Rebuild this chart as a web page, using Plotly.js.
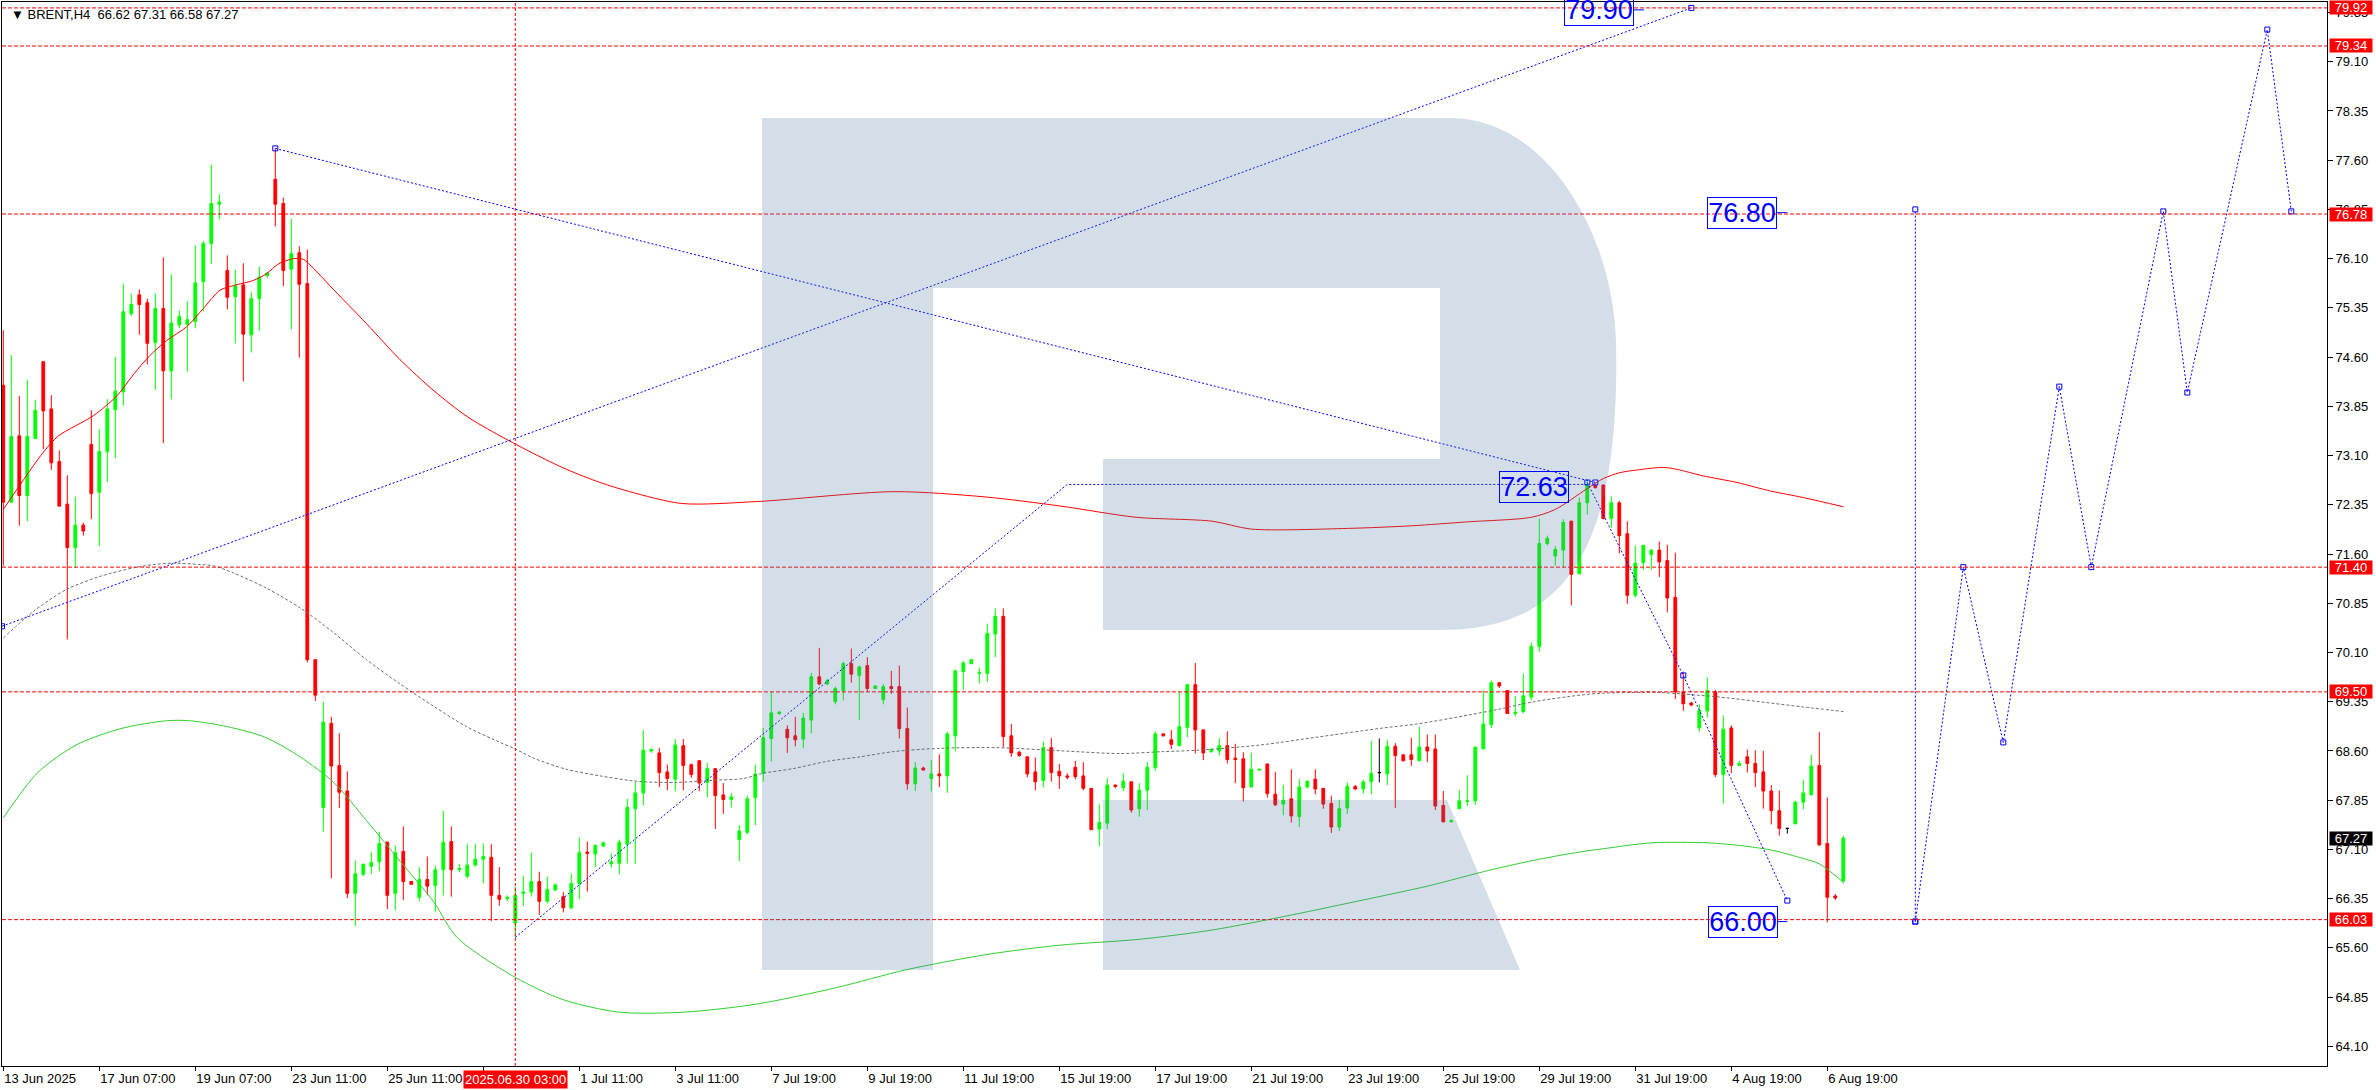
<!DOCTYPE html>
<html>
<head>
<meta charset="utf-8">
<script src="https://cdn.plot.ly/plotly-3.0.1.min.js"></script>
<style>
html,body{margin:0;padding:0;background:#ffffff;}
#chart{width:2376px;height:1090px;}
</style>
</head>
<body>
<div id="chart"></div>
<script>
// ---------------- DATA ----------------
const symbolName = 'BRENT,H4';
const candleOpen = [
74.17,72.39,73.40,72.49,73.36,74.53,73.81,73.01,72.36,71.70,
72.04,73.27,72.54,73.16,73.80,74.07,75.26,75.55,75.43,74.82,
75.34,74.39,75.09,75.10,75.14,75.75,76.33,76.93,75.92,75.52,
75.70,74.94,75.49,75.84,77.31,76.94,75.94,76.19,75.72,69.99,
67.74,69.02,68.38,67.99,66.43,66.72,66.84,66.91,67.21,66.43,
67.07,66.61,66.37,66.64,66.55,66.79,67.22,66.79,66.69,66.86,
66.95,66.98,66.40,66.35,65.98,66.43,66.45,66.61,66.31,66.48,
66.38,66.21,66.58,67.06,67.03,67.15,66.88,66.89,67.18,67.72,
67.96,68.60,68.57,68.28,68.17,68.68,68.39,68.45,68.12,68.33,
67.93,67.86,67.25,67.36,67.89,68.26,68.79,69.17,68.93,68.83,
68.78,69.07,69.73,69.62,69.35,69.52,69.93,69.75,69.90,69.55,
69.38,69.58,69.58,68.94,68.10,68.34,68.18,68.25,68.22,68.83,
69.81,69.93,69.78,69.78,70.38,70.65,68.83,68.58,68.51,68.28,
68.15,68.65,68.29,68.22,68.35,68.22,68.03,67.41,67.50,68.08,
68.04,68.13,67.72,68.00,68.35,68.86,68.77,68.68,68.96,69.61,
68.92,68.59,68.60,68.68,68.49,68.48,68.05,68.31,68.40,67.94,
67.79,67.87,67.60,68.05,68.17,68.03,67.80,67.44,67.73,68.06,
68.02,68.13,68.27,68.25,68.67,68.54,68.54,68.45,68.66,68.63,
67.77,67.52,67.72,67.83,67.84,68.63,69.00,69.64,69.52,69.17,
69.20,69.42,70.19,71.76,71.57,71.66,72.10,71.30,72.38,72.65,
72.65,72.14,72.38,71.91,70.97,71.47,71.59,71.66,71.50,70.94,
69.50,69.33,68.95,69.21,69.50,68.24,68.95,68.38,68.51,68.41,
68.28,67.99,67.69,67.42,67.49,67.82,67.93,68.38,67.19,66.39,
66.62];
const candleHigh = [
75.01,74.63,74.01,74.25,73.95,74.53,74.02,73.18,72.80,72.47,
72.08,73.79,73.50,73.96,74.60,75.72,75.57,75.63,75.49,75.57,
76.12,75.86,75.31,75.45,76.30,76.37,77.53,77.08,76.15,75.93,
76.03,75.59,75.98,75.90,77.78,77.03,76.71,76.29,76.24,70.00,
69.35,69.12,68.87,68.29,66.93,66.89,67.06,67.37,67.22,67.16,
67.45,66.62,66.83,66.99,66.85,67.69,67.45,66.88,67.18,67.18,
67.19,67.18,66.83,66.40,66.53,66.70,67.05,66.76,66.68,66.58,
66.45,66.73,67.28,67.22,67.18,67.22,67.04,67.25,67.87,68.13,
68.92,68.64,68.65,68.39,68.78,68.78,68.41,68.46,68.42,68.34,
68.11,67.96,67.47,67.92,68.39,68.95,69.50,69.21,68.99,69.12,
69.18,69.79,70.17,69.70,69.58,69.96,70.16,69.90,70.03,69.59,
69.62,69.82,69.90,69.26,68.43,68.36,68.46,68.55,68.89,69.84,
69.97,70.00,69.87,70.54,70.77,70.77,69.01,68.60,68.52,68.50,
68.74,68.80,68.40,68.26,68.45,68.43,68.03,67.79,68.19,68.09,
68.26,68.13,68.11,68.43,68.90,68.86,68.92,69.50,69.61,69.94,
68.93,68.64,68.80,68.90,68.71,68.58,68.57,68.33,68.41,68.28,
68.08,68.32,68.17,68.14,68.32,68.03,67.92,67.86,68.12,68.08,
68.16,68.75,68.79,68.77,68.72,68.54,68.80,68.97,68.85,68.85,
67.99,67.56,68.00,68.23,68.66,69.52,69.67,69.64,69.52,69.44,
69.78,70.25,72.14,71.88,71.72,72.13,72.11,72.46,72.71,72.66,
72.66,72.48,72.41,72.10,71.73,71.73,71.67,71.79,71.74,71.62,
69.81,69.35,69.31,69.72,69.53,69.14,68.99,68.45,68.62,68.61,
68.60,68.08,68.00,67.42,67.84,68.16,68.54,68.89,67.89,66.42,
67.31];
const candleLow = [
71.42,72.39,72.03,72.10,73.36,73.20,72.88,72.32,70.30,71.39,
71.88,72.13,71.72,72.70,73.06,73.86,75.23,74.94,74.49,74.10,
73.29,73.96,75.04,74.38,75.04,75.30,76.02,76.70,75.33,74.81,
74.23,74.67,75.00,75.81,76.59,75.68,75.02,74.59,69.95,69.36,
67.37,66.66,67.73,66.36,65.93,66.69,66.73,66.77,66.19,66.17,
66.33,66.56,66.31,66.40,66.15,66.40,66.38,66.75,66.66,66.84,
66.58,66.01,66.24,66.31,65.76,66.24,66.38,66.10,66.28,66.47,
66.14,66.19,66.34,66.46,66.83,67.14,66.82,66.72,66.89,66.88,
67.77,68.57,68.05,68.00,67.99,68.00,68.19,67.99,67.89,67.41,
67.64,67.74,66.92,67.33,67.47,68.13,68.44,69.15,68.57,68.67,
68.64,68.87,69.60,69.60,69.31,69.37,69.64,69.07,69.50,69.55,
69.31,69.47,68.79,68.01,67.99,68.30,67.98,68.05,67.96,68.60,
69.53,69.92,69.63,69.65,70.03,68.66,68.51,68.51,68.20,68.00,
68.05,68.13,68.02,68.17,68.17,68.00,67.40,67.15,67.41,68.03,
67.99,67.66,67.60,67.70,68.30,68.82,68.63,68.67,68.81,68.56,
68.46,68.57,68.53,68.41,68.11,67.83,68.05,68.30,67.89,67.76,
67.62,67.51,67.44,68.03,67.94,67.72,67.35,67.38,67.64,68.01,
67.95,67.94,68.12,68.08,67.73,68.44,68.37,68.45,68.43,67.70,
67.51,67.51,67.72,67.76,67.78,68.63,68.95,69.56,69.17,69.12,
69.17,69.37,70.11,71.73,71.42,71.40,70.82,71.29,72.20,72.60,
72.13,72.00,71.61,70.84,70.94,71.36,71.36,71.25,70.71,69.39,
69.21,69.28,68.89,69.11,68.20,67.80,68.26,68.38,68.27,68.05,
67.72,67.48,67.31,67.34,67.48,67.71,67.93,67.15,65.99,66.33,
66.58];
const candleClose = [
72.39,73.39,72.49,73.39,73.79,73.78,72.99,72.33,71.70,72.04,
71.95,72.52,73.16,73.81,74.08,75.29,75.40,75.40,74.81,75.34,
74.39,75.12,75.22,75.17,75.73,76.33,76.94,76.96,75.51,75.69,
74.95,75.49,75.82,75.88,76.93,75.92,76.18,75.71,69.99,69.45,
69.04,68.37,67.97,66.43,66.73,66.87,66.90,67.19,66.40,67.05,
66.61,66.57,66.64,66.54,66.79,67.21,66.79,66.81,66.86,66.95,
66.99,66.40,66.34,66.37,66.40,66.45,66.61,66.31,66.49,66.56,
66.21,66.58,67.05,67.04,67.16,67.20,66.91,67.21,67.74,67.96,
68.61,68.62,68.27,68.18,68.69,68.38,68.24,68.11,68.33,67.92,
67.86,67.90,67.38,67.87,68.25,68.80,69.18,69.19,68.80,68.77,
69.10,69.73,69.62,69.67,69.55,69.93,69.77,69.88,69.55,69.59,
69.58,69.55,68.94,68.10,68.34,68.31,68.25,68.22,68.86,69.82,
69.94,69.99,69.79,70.39,70.65,68.82,68.57,68.53,68.25,68.13,
68.65,68.27,68.22,68.20,68.21,68.03,67.40,67.51,68.08,68.06,
68.14,67.70,68.00,68.35,68.86,68.83,68.70,68.97,69.61,68.92,
68.57,68.62,68.68,68.47,68.47,68.04,68.32,68.32,67.95,67.78,
67.85,67.61,68.05,68.14,68.02,67.79,67.44,67.72,68.06,68.02,
68.13,68.26,68.27,68.67,68.53,68.45,68.47,68.66,68.60,67.76,
67.52,67.54,67.84,67.84,68.66,69.01,69.64,69.59,69.17,69.19,
69.44,70.19,71.76,71.84,71.67,72.08,71.29,72.38,72.65,72.61,
72.14,72.38,71.88,70.97,71.46,71.73,71.66,71.48,70.93,69.50,
69.32,69.30,69.22,69.52,68.24,68.93,68.38,68.41,68.41,68.27,
67.99,67.69,67.42,67.42,67.82,67.96,68.37,67.17,66.37,66.36,
67.27];

// bar-index tick positions and their labels (the label at bar 60 sits under the cursor tag)
const timeTickIdx = [0,12,24,36,48,60,72,84,96,108,120,132,144,156,168,180,192,204,216,228];
const timeTickText = ['13 Jun 2025','17 Jun 07:00','19 Jun 07:00','23 Jun 11:00','25 Jun 11:00','',
  '1 Jul 11:00','3 Jul 11:00','7 Jul 19:00','9 Jul 19:00','11 Jul 19:00','15 Jul 19:00','17 Jul 19:00',
  '21 Jul 19:00','23 Jul 19:00','25 Jul 19:00','29 Jul 19:00','31 Jul 19:00','4 Aug 19:00','6 Aug 19:00'];
const cursorIdx = 64;
const cursorLabel = '2025.06.30 03:00';

// moving averages
const redMaX = [0,5,6.9,11.3,14.2,16.3,18.3,20.4,22.9,25,27.1,28.8,31.3,32.9,34.4,36.3,37.5,38.8,40.8,45.4,49.6,53.8,57.9,62.1,66.3,70.4,74.6,78.3,84.8,94.3,111.3,122.7,132.2,141.6,151.1,156,168,176,183,191,194,197.9,200,202.1,204.2,207.5,209.2,212.5,216.7,220.9,225,230];
const redMaY = [72.28,73.15,73.40,73.71,74.01,74.34,74.62,74.85,75.06,75.34,75.62,75.69,75.77,75.87,76.02,76.10,76.09,75.95,75.69,75.11,74.56,74.09,73.70,73.40,73.13,72.89,72.69,72.55,72.37,72.40,72.55,72.47,72.33,72.16,72.10,71.98,71.99,72.03,72.09,72.16,72.28,72.59,72.75,72.84,72.88,72.92,72.89,72.79,72.69,72.56,72.46,72.32];
const greenMaX = [0,4.3,9.1,14.7,20.4,23.3,28,32.7,37.1,41.3,45.4,49.6,53.8,56.7,64,70,77,85,94,104,113,123,132,142,151,161,170,178,186,192,197,200,206,213,217,221,225,227,230];
const greenMaY = [67.58,68.27,68.69,68.94,69.06,69.06,68.97,68.81,68.51,68.12,67.54,66.92,66.30,65.76,65.15,64.81,64.62,64.62,64.74,64.99,65.27,65.50,65.64,65.73,65.87,66.10,66.33,66.54,66.79,66.95,67.06,67.11,67.20,67.20,67.16,67.09,66.96,66.88,66.60];
const grayMaX = [0,3.8,7.9,12.1,16.3,18.8,21.3,24.6,26.3,28.8,32.9,37.1,41.3,45.4,49.6,53.8,57.9,62.1,64,66.3,70.4,74.6,78.3,80,84.2,88.3,92.5,95,98.7,102.9,107.1,111.3,117.1,124.2,132.5,139.6,145,149.2,157.1,164.2,172.5,176.7,183.3,187.1,191.3,197.1,200,207.1,211.7,214.6,220.9,225,230];
const grayMaY = [70.32,70.73,71.06,71.26,71.39,71.44,71.46,71.44,71.42,71.31,71.08,70.78,70.40,69.99,69.62,69.28,68.97,68.73,68.63,68.49,68.32,68.22,68.15,68.13,68.12,68.15,68.18,68.26,68.33,68.44,68.51,68.59,68.64,68.65,68.60,68.56,68.59,68.61,68.69,68.81,68.95,69.01,69.15,69.24,69.35,69.45,69.48,69.49,69.45,69.42,69.33,69.27,69.20];

// blue analysis / forecast lines (anchor points)
const trendUpX = [-0.16, 211];            const trendUpY = [70.50, 79.92];
const trendDownX = [34, 199];             const trendDownY = [77.78, 72.69];
const waveUpX = [64, 133, 198];           const waveUpY = [65.76, 72.66, 72.66];
const waveDownX = [198, 210, 223];        const waveDownY = [72.69, 69.75, 66.32];
const targetStemX = [239, 239];           const targetStemY = [66.00, 76.85];
const forecastX = [239, 245, 250, 257, 261, 270, 273, 283, 286];
const forecastY = [66.00, 71.40, 68.73, 74.15, 71.40, 76.82, 74.06, 79.59, 76.82];

// blue price labels
const tagText = ['79.90', '72.63', '76.80', '66.00'];
const tagX = [199.4, 191.3, 217.35, 217.4];
const tagY = [79.89, 72.62, 76.80, 66.00];
const tagStubX0 = [203.8, null, 221.7, 221.7];
const tagStubX1 = [205.1, null, 223.0, 223.0];

// horizontal levels (red) and last price
const levelValues = [79.92, 79.34, 76.78, 71.40, 69.50, 66.03];

// ---------------- BUILD ----------------
const W = 2376, H = 1090;
const M = {l: 2, r: 49, t: 2, b: 24};
const plotW = W - M.l - M.r, plotH = H - M.t - M.b;
const n = candleClose.length;
const idx = Array.from({length: n}, (_, i) => i);
const isDoji = idx.map(i => candleOpen[i] === candleClose[i]);
const pick = (arr, keep) => idx.filter(i => isDoji[i] === keep).map(i => arr[i]);
const FONT = 'Liberation Sans, Arial, DejaVu Sans, sans-serif';

const traces = [];
traces.push({
  type: 'candlestick',
  x: pick(idx, false), open: pick(candleOpen, false), high: pick(candleHigh, false),
  low: pick(candleLow, false), close: pick(candleClose, false),
  increasing: {line: {color: '#00ff00', width: 1}, fillcolor: '#00ff00'},
  decreasing: {line: {color: '#ff0000', width: 1}, fillcolor: '#ff0000'},
  whiskerwidth: 0, hoverinfo: 'skip', showlegend: false
});
traces.push({
  type: 'candlestick',
  x: pick(idx, true), open: pick(candleOpen, true), high: pick(candleHigh, true),
  low: pick(candleLow, true), close: pick(candleClose, true),
  increasing: {line: {color: '#000000', width: 1}, fillcolor: '#000000'},
  decreasing: {line: {color: '#000000', width: 1}, fillcolor: '#000000'},
  whiskerwidth: 0, hoverinfo: 'skip', showlegend: false
});
function maLine(x, y, color, dash) {
  return {type: 'scatter', mode: 'lines', x: x, y: y, hoverinfo: 'skip', showlegend: false,
    line: {color: color, width: 1, shape: 'spline', smoothing: 0.8, dash: dash || 'solid'}};
}
traces.push(maLine(grayMaX, grayMaY, '#6e6e6e', '3px,2px'));
traces.push(maLine(greenMaX, greenMaY, '#32cd32'));
traces.push(maLine(redMaX, redMaY, '#ff0000'));

function blueLine(x, y, markers) {
  return {type: 'scatter', mode: markers ? 'lines+markers' : 'lines', x: x, y: y,
    hoverinfo: 'skip', showlegend: false, cliponaxis: true,
    line: {color: '#0000ff', width: 1, dash: '2px,2px'},
    marker: {symbol: 'square-open', size: 5, color: '#0000ff', line: {color: '#0000ff', width: 1}}};
}
traces.push(blueLine(trendUpX, trendUpY, true));
traces.push(blueLine(trendDownX, trendDownY, true));
traces.push(blueLine(waveUpX, waveUpY, false));
traces.push(blueLine(waveDownX, waveDownY, true));
traces.push(blueLine(targetStemX, targetStemY, true));
traces.push(blueLine(forecastX, forecastY, true));
tagText.forEach((t, k) => {
  if (tagStubX0[k] !== null) {
    const s = blueLine([tagStubX0[k], tagStubX1[k]], [tagY[k], tagY[k]], false);
    s.line.dash = 'solid';
    traces.push(s);
  }
});

// shapes
const shapes = [];
levelValues.forEach(v => shapes.push({
  type: 'line', xref: 'paper', x0: 0, x1: 1, yref: 'y', y0: v, y1: v,
  line: {color: '#ff0000', width: 1, dash: '4px,2px'}, layer: 'above'
}));
shapes.push({type: 'line', xref: 'x', x0: cursorIdx, x1: cursorIdx, yref: 'paper', y0: 0, y1: 1,
  line: {color: '#ff0000', width: 1, dash: '3px,2px'}, layer: 'above'});

// watermark logo (decoration, placed in paper space)
function P(x, y) {
  return ((x - M.l) / plotW).toFixed(5) + ',' + ((M.t + plotH - y) / plotH).toFixed(5);
}
const logoMain = 'M' + P(762,118) + ' L' + P(1450,118) +
  ' C' + P(1545,118) + ' ' + P(1612,230) + ' ' + P(1616,340) +
  ' C' + P(1621,560) + ' ' + P(1560,630) + ' ' + P(1440,630) +
  ' L' + P(1103,630) + ' L' + P(1103,459) + ' L' + P(1440,459) + ' L' + P(1440,288) +
  ' L' + P(933,288) + ' L' + P(933,970) + ' L' + P(762,970) + ' Z';
const logoLeg = 'M' + P(1103,800) + ' L' + P(1447,800) + ' L' + P(1520,970) + ' L' + P(1103,970) + ' Z';
[logoMain, logoLeg].forEach(p => shapes.push({
  type: 'path', xref: 'paper', yref: 'paper', path: p,
  fillcolor: 'rgba(80,120,165,0.245)', line: {width: 0}, layer: 'above'
}));

// annotations
const annotations = [];
const last = n - 1;
annotations.push({
  xref: 'paper', yref: 'paper', x: 0, y: 1, xanchor: 'left', yanchor: 'top', xshift: 7, yshift: -3,
  showarrow: false, align: 'left',
  text: '\u25BC ' + symbolName + '\u00a0\u00a0' +
    [candleOpen[last], candleHigh[last], candleLow[last], candleClose[last]].map(v => v.toFixed(2)).join(' '),
  font: {family: FONT, size: 13, color: '#000000'}
});
tagText.forEach((t, k) => annotations.push({
  xref: 'x', yref: 'y', x: tagX[k], y: tagY[k], xanchor: 'center', yanchor: 'middle',
  showarrow: false, text: t, width: 66, height: 28, borderpad: 1, borderwidth: 1,
  bordercolor: '#0000ff', font: {family: FONT, size: 27, color: '#0000ff'}
}));
levelValues.forEach(v => annotations.push({
  xref: 'paper', yref: 'y', x: 1, y: v, xanchor: 'left', yanchor: 'middle', xshift: 2,
  showarrow: false, text: v.toFixed(2), bgcolor: '#ff0000', width: 42, height: 13, borderpad: 0,
  font: {family: FONT, size: 13, color: '#ffffff'}
}));
annotations.push({
  xref: 'paper', yref: 'y', x: 1, y: candleClose[last], xanchor: 'left', yanchor: 'middle', xshift: 2,
  showarrow: false, text: candleClose[last].toFixed(2), bgcolor: '#000000', width: 42, height: 13, borderpad: 0,
  font: {family: FONT, size: 13, color: '#ffffff'}
});
annotations.push({
  xref: 'x', yref: 'paper', x: cursorIdx, y: 0, xanchor: 'center', yanchor: 'top', yshift: -4,
  showarrow: false, text: cursorLabel, bgcolor: '#ff0000', borderpad: 1,
  font: {family: FONT, size: 13, color: '#ffffff'}
});

const layout = {
  width: W, height: H,
  margin: {l: M.l, r: M.r, t: M.t, b: M.b, pad: 0},
  paper_bgcolor: '#ffffff', plot_bgcolor: '#ffffff',
  showlegend: false, boxgap: 0.5, boxmode: 'overlay',
  font: {family: FONT, size: 13, color: '#000000'},
  xaxis: {
    range: [-0.1625, 290.4625], showgrid: false, zeroline: false,
    showline: true, mirror: true, linecolor: '#000000', linewidth: 1,
    ticks: 'outside', ticklen: 4, tickcolor: '#000000', tickwidth: 1,
    tickmode: 'array', tickvals: timeTickIdx, ticktext: timeTickText,
    ticklabelposition: 'outside right',
    tickfont: {family: FONT, size: 13, color: '#000000'},
    rangeslider: {visible: false}, fixedrange: true
  },
  yaxis: {
    range: [63.80, 80.01], side: 'right', showgrid: false, zeroline: false,
    showline: true, mirror: true, linecolor: '#000000', linewidth: 1,
    ticks: 'outside', ticklen: 5, tickcolor: '#000000', tickwidth: 1,
    tickmode: 'linear', tick0: 64.10, dtick: 0.75, tickformat: '.2f',
    tickfont: {family: FONT, size: 13, color: '#000000'}, fixedrange: true
  },
  shapes: shapes,
  annotations: annotations
};

Plotly.newPlot('chart', traces, layout, {staticPlot: true, displayModeBar: false});
</script>
</body>
</html>
